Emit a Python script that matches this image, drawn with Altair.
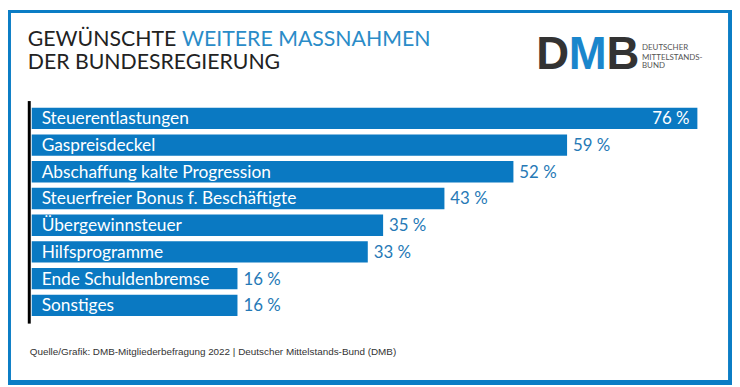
import altair as alt
import pandas as pd

categories = ["Steuerentlastungen", "Gaspreisdeckel", "Abschaffung kalte Progression",
              "Steuerfreier Bonus f. Beschäftigte", "Übergewinnsteuer", "Hilfsprogramme",
              "Ende Schuldenbremse", "Sonstiges"]
values = [76, 59, 52, 43, 35, 33, 16, 16]

title_black = "GEWÜNSCHTE"
title_blue = "WEITERE MASSNAHMEN"
title_line2 = "DER BUNDESREGIERUNG"
source_text = "Quelle/Grafik: DMB-Mitgliederbefragung 2022 | Deutscher Mittelstands-Bund (DMB)"
logo_letters = ["D", "M", "B"]
logo_lines = ["DEUTSCHER", "MITTELSTANDS-", "BUND"]

BAR = "#0a79c2"
LABEL = "#2679b6"
TITLE_BLUE = "#2a8cc8"
DARK = "#222222"
FRAME = "#0b7dc5"
X_MIN = -10.84

df = pd.DataFrame({"cat": categories, "value": values})
df["label"] = df["value"].astype(str) + " %"
df["top"] = df["value"] == df["value"].max()

x = alt.X("value:Q", axis=None, scale=alt.Scale(domain=[X_MIN, 76], zero=False, nice=False))
y = alt.Y("cat:N", sort=categories, axis=None,
          scale=alt.Scale(paddingInner=0.2, paddingOuter=0.1))

base = alt.Chart(df)
bars = base.mark_bar(color=BAR).encode(x=x, x2=alt.datum(X_MIN), y=y)
cat_text = base.mark_text(align="left", baseline="middle", color="white",
                          font="Lato", fontSize=17.5, dy=1).encode(
    x=alt.value(10), y=y, text="cat:N")
val_out = base.transform_filter("!datum.top").mark_text(
    align="left", baseline="middle", dx=6, dy=1, color=LABEL, font="Lato", fontSize=17
).encode(x=x, y=y, text="label:N")
val_in = base.transform_filter("datum.top").mark_text(
    align="right", baseline="middle", dx=-8, dy=1, color="white", font="Lato", fontSize=17
).encode(x=x, y=y, text="label:N")

one = pd.DataFrame({"k": [0]})


def txt(s, xv, yv, **kw):
    d = pd.DataFrame({"t": [s]})
    return alt.Chart(d).mark_text(baseline="alphabetic", align="left", **kw).encode(
        x=alt.value(xv), y=alt.value(yv), text="t:N")


t1 = txt(title_black, -4, -60, font="Lato", fontSize=21.5, color=DARK)
t2 = txt(title_blue, 152, -60, font="Lato", fontSize=21.5, color=TITLE_BLUE)
t3 = txt(title_line2, -4, -36, font="Lato", fontSize=21.5, color=DARK)

logoD = txt(logo_letters[0], 510, -36, font="Liberation Sans", fontSize=46, fontWeight="bold", color="#333333")
logoM = txt(logo_letters[1], 543, -36, font="Liberation Sans", fontSize=46, fontWeight="bold", color="#1a86cc")
logoB = txt(logo_letters[2], 581, -36, font="Liberation Sans", fontSize=46, fontWeight="bold", color="#333333")
logo1 = txt(logo_lines[0], 617, -56, font="Lato", fontSize=8, color="#555555")
logo2 = txt(logo_lines[1], 617, -46, font="Lato", fontSize=8, color="#555555")
logo3 = txt(logo_lines[2], 617, -37, font="Lato", fontSize=8, color="#555555")

src = txt(source_text, -2, 253, font="Liberation Sans", fontSize=10, color="#333333")

axis_line = alt.Chart(one).mark_rule(color="black", strokeWidth=3).encode(
    x=alt.value(-2.5), y=alt.value(-4), y2=alt.value(221))


def strip(x1, x2, y1, y2):
    return alt.Chart(one).mark_rect(color=FRAME).encode(
        x=alt.value(x1), x2=alt.value(x2), y=alt.value(y1), y2=alt.value(y2))


frame = [strip(704, 708, -96, 283), strip(-24, 708, 278, 283),
         strip(-24, -21, -96, 283), strip(-24, 708, -96, -93)]

chart = alt.layer(
    bars, cat_text, val_out, val_in, axis_line,
    t1, t2, t3, logoD, logoM, logoB, logo1, logo2, logo3, src, *frame
).properties(
    width=673, height=216,
    autosize=alt.AutoSizeParams(type="none"),
    padding={"left": 24, "top": 96, "right": 35, "bottom": 67},
).configure(background="white").configure_view(stroke=None)

chart.save("out.html", embed_options={"renderer": "svg", "actions": False})
